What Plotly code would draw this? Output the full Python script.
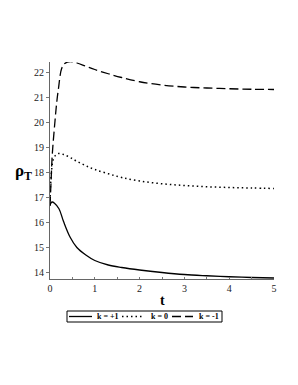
import plotly.graph_objects as go

t_plus = [0, 0.02, 0.05, 0.1, 0.2, 0.3, 0.45, 0.6, 0.8, 1.0, 1.3, 1.6, 2.0, 2.5, 3.0, 3.5, 4.0, 4.5, 5.0]
rho_plus = [16.68, 16.78, 16.82, 16.77, 16.55, 16.05, 15.41, 15.0, 14.7, 14.48, 14.3, 14.2, 14.1, 14.0, 13.92, 13.87, 13.83, 13.8, 13.78]

t_zero = [0, 0.01, 0.04, 0.07, 0.12, 0.19, 0.3, 0.45, 0.6, 0.8, 1.0, 1.3, 1.6, 2.0, 2.5, 3.0, 3.5, 4.0, 4.5, 5.0]
rho_zero = [16.68, 17.37, 18.16, 18.5, 18.68, 18.76, 18.72, 18.6, 18.45, 18.27, 18.12, 17.95, 17.8, 17.66, 17.55, 17.48, 17.43, 17.4, 17.38, 17.36]

t_minus = [0, 0.025, 0.05, 0.11, 0.15, 0.19, 0.26, 0.33, 0.45, 0.6, 0.8, 1.0, 1.3, 1.6, 2.0, 2.5, 3.0, 3.5, 4.0, 4.5, 5.0]
rho_minus = [16.68, 17.7, 18.7, 20.03, 20.8, 21.37, 22.16, 22.36, 22.44, 22.38, 22.25, 22.12, 21.95, 21.8, 21.63, 21.5, 21.42, 21.38, 21.35, 21.33, 21.32]

names = ["k = +1", "k = 0", "k = -1"]
x_ticks = [0, 1, 2, 3, 4, 5]
y_ticks = [14, 15, 16, 17, 18, 19, 20, 21, 22]

serif = "Liberation Serif"
OFF = 8  # page body margin
W, H = 298 - OFF, 385 - OFF
# plot area in page pixels: x 50..274, y 62..279
L, T = 50 - OFF, 62 - OFF
R = W - (274 - OFF)
B = H - (279 - OFF)
PW, PH = W - L - R, H - T - B

def px(x):
    return (x - OFF - L) / PW

def py(y):
    return (H - B - (y - OFF)) / PH

styles = [
    dict(color="black", width=1.3),
    dict(color="black", width=1.5, dash="1.5px,3px"),
    dict(color="black", width=1.3, dash="9px,4px"),
]

fig = go.Figure()
for tt, rr, nm, st in zip([t_plus, t_zero, t_minus], [rho_plus, rho_zero, rho_minus], names, styles):
    fig.add_trace(go.Scatter(x=tt, y=rr, mode="lines", name=nm,
                             line=dict(shape="spline", **st)))

shapes = [dict(type="rect", xref="paper", yref="paper",
               x0=px(67), x1=px(222), y0=py(322), y1=py(311),
               line=dict(color="black", width=1), fillcolor="white", layer="above")]
annotations = []
seg = [(69, 92, 95), (122, 143, 149), (172, 193, 197)]
for (a, b, tx), nm, st in zip(seg, names, styles):
    shapes.append(dict(type="line", xref="paper", yref="paper",
                       x0=px(a), x1=px(b), y0=py(316.5), y1=py(316.5),
                       line=dict(color="black", width=st["width"], dash=st.get("dash", "solid"))))
    annotations.append(dict(text="<b>" + nm + "</b>", xref="paper", yref="paper",
                            x=px(tx), y=py(316.5), xanchor="left", yanchor="middle",
                            showarrow=False, font=dict(family=serif, size=8, color="black")))

annotations.append(dict(text="<b>ρ<sub>T</sub></b>", xref="paper", yref="paper",
                        x=px(34), y=py(172), xanchor="right", yanchor="middle", showarrow=False,
                        font=dict(family=serif, size=17, color="black")))
annotations.append(dict(text="<b>t</b>", xref="paper", yref="paper",
                        x=px(162), y=py(300), xanchor="center", yanchor="middle", showarrow=False,
                        font=dict(family=serif, size=14, color="black")))

fig.update_layout(
    width=W, height=H,
    margin=dict(l=L, r=R, t=T, b=B, autoexpand=False),
    paper_bgcolor="white", plot_bgcolor="white",
    font=dict(family=serif, size=10, color="#222"),
    showlegend=False,
    xaxis=dict(range=[0, 5], tickvals=x_ticks, showgrid=False, zeroline=False, automargin=False,
               showline=True, linecolor="#666", linewidth=1,
               ticks="inside", ticklen=2, tickcolor="#777",
               minor=dict(ticks="inside", ticklen=2, dtick=0.5, tickcolor="#777")),
    yaxis=dict(range=[13.74, 22.42], tickvals=y_ticks, showgrid=False, zeroline=False, automargin=False,
               showline=True, linecolor="#666", linewidth=1,
               ticks="outside", ticklen=3, tickcolor="#777"),
    shapes=shapes,
    annotations=annotations,
)

fig.write_html("out.html")
